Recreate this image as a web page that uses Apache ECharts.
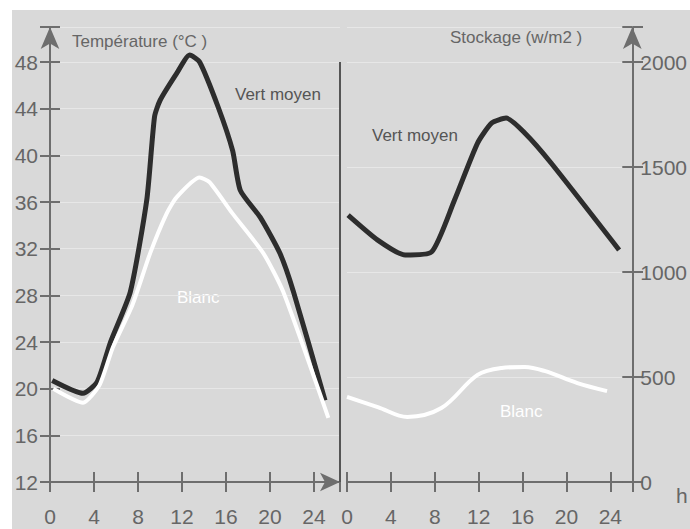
<!DOCTYPE html>
<html><head><meta charset="utf-8">
<script src="https://cdn.jsdelivr.net/npm/echarts@6/dist/echarts.min.js"></script>
<style>html,body{margin:0;padding:0;background:#fff}#c{width:690px;height:529px}</style>
</head><body><div id="c"></div>
<script>
// Left panel: température (°C) vs heure (h)
const hoursVertTemp = [0.2, 3, 4.3, 5.5, 7.3, 8.8, 9.5, 10, 11.5, 12.7, 13.6, 15.3, 16.6, 17.3, 19.1, 20.9, 22.1, 25];
const tempVert      = [20.7, 19.6, 20.6, 24, 28.3, 36.2, 43.3, 44.7, 47, 48.6, 48, 44.1, 40.4, 37, 34.7, 31.6, 28.4, 19];
const hoursBlancTemp = [0.3, 3, 4.5, 5.7, 7.5, 9.1, 10.6, 11.5, 13.6, 14.5, 16.6, 19.4, 21.2, 25.3];
const tempBlanc      = [20, 18.8, 20.3, 23.5, 27.2, 31.6, 35, 36.4, 38.1, 37.7, 35, 31.6, 28.3, 17.5];
// Right panel: stockage (w/m2) vs heure (h)
const hoursVertStock = [0.1, 2.8, 5.3, 7.7, 9.8, 11.9, 13.2, 14.5, 16.2, 18.6, 24.8];
const stockVert      = [1271, 1152, 1081, 1095, 1343, 1614, 1710, 1733, 1662, 1519, 1105];
const hoursBlancStock = [0, 2.8, 5.5, 8.6, 11.9, 14.1, 16.2, 18, 21, 23.7];
const stockBlanc      = [405, 357, 310, 352, 510, 543, 548, 529, 471, 433];
// Tick labels
const hourTicks = [0, 4, 8, 12, 16, 20, 24];
const tempTicks = [12, 16, 20, 24, 28, 32, 36, 40, 44, 48];
const stockTicks = [0, 500, 1000, 1500, 2000];

const FONT = 'Liberation Sans';
const AX = '#6e6e6e';
const TXT = '#666666';
const pairs = (xs, ys) => xs.map((x, i) => [x, ys[i]]);
const only = list => v => list.indexOf(Math.round(v * 1000) / 1000) >= 0 ? String(Math.round(v)) : '';
const tickStyle = {color: AX, width: 2};

const chart = echarts.init(document.getElementById('c'), null, {renderer: 'svg'});

const grid = (l, w) => ({left: l, top: 27, width: w, height: 455});

function xAx(g, max, main, arrow) {
  return {
    type: 'value', gridIndex: g, min: 0, max: max, interval: 4, position: 'bottom',
    axisLine: {show: main, onZero: false, lineStyle: {color: AX, width: 2}, symbol: arrow ? ['none', 'arrow'] : ['none', 'none'], symbolSize: [14, 20]},
    axisTick: {show: true, inside: main, length: 10, lineStyle: tickStyle},
    axisLabel: main ? {color: TXT, fontSize: 21, fontFamily: FONT, margin: 24, formatter: only(hourTicks)} : {show: false},
    splitLine: {show: false}
  };
}
function yAx(g, min, max, interval, pos, main, ticks, margin) {
  return {
    type: 'value', gridIndex: g, min: min, max: max, interval: interval, position: pos,
    axisLine: {show: main, onZero: false, lineStyle: {color: AX, width: 2}, symbol: ['none', 'arrow'], symbolSize: [14, 22]},
    axisTick: {show: true, inside: main, length: 10, lineStyle: tickStyle},
    axisLabel: main ? {color: TXT, fontSize: 21, fontFamily: FONT, margin: margin, padding: [0, 0, 10, 0], formatter: only(ticks)} : {show: false},
    splitLine: main ? {show: true, lineStyle: {color: '#e7e7e7', width: 1}} : {show: false}
  };
}

const option = {
  backgroundColor: '#ffffff',
  animation: false,
  grid: [grid(50, 290), grid(347, 286), grid(50, 290), grid(347, 286)],
  xAxis: [
    xAx(0, 26.36, true, true),
    xAx(1, 26, true, false),
    xAx(2, 26.36, false, false),
    xAx(3, 26, false, false)
  ],
  yAxis: [
    yAx(0, 12, 51, 4, 'left', true, tempTicks, 12),
    yAx(1, 0, 2166.67, 500, 'right', true, stockTicks, 8),
    yAx(2, 12, 51, 4, 'left', false, tempTicks, 12),
    yAx(3, 0, 2166.67, 500, 'right', false, stockTicks, 8)
  ],
  series: [
    {type: 'line', xAxisIndex: 0, yAxisIndex: 0, data: pairs(hoursVertTemp, tempVert), showSymbol: false, smooth: 0.2,
     lineStyle: {color: '#2d2d2d', width: 5}, z: 3},
    {type: 'line', xAxisIndex: 0, yAxisIndex: 0, data: pairs(hoursBlancTemp, tempBlanc), showSymbol: false, smooth: 0.2,
     lineStyle: {color: '#ffffff', width: 4}, z: 4},
    {type: 'line', xAxisIndex: 1, yAxisIndex: 1, data: pairs(hoursVertStock, stockVert), showSymbol: false, smooth: 0.2,
     lineStyle: {color: '#2d2d2d', width: 5}, z: 3},
    {type: 'line', xAxisIndex: 1, yAxisIndex: 1, data: pairs(hoursBlancStock, stockBlanc), showSymbol: false, smooth: 0.35,
     lineStyle: {color: '#ffffff', width: 4}, z: 4}
  ],
  graphic: [
    {type: 'rect', z: -10, silent: true, shape: {x: 12, y: 10, width: 678, height: 519}, style: {fill: '#d9d9d9'}},
    {type: 'line', z: 5, shape: {x1: 340, y1: 62, x2: 340, y2: 482}, style: {stroke: '#555555', lineWidth: 2}},
    {type: 'text', left: 72, top: 33, style: {text: 'Température (°C )', fontSize: 17, fontFamily: FONT, fill: TXT}},
    {type: 'text', left: 235, top: 86, style: {text: 'Vert moyen', fontSize: 17, fontFamily: FONT, fill: '#555555'}},
    {type: 'text', left: 177, top: 289, style: {text: 'Blanc', fontSize: 17, fontFamily: FONT, fill: '#ffffff'}},
    {type: 'text', left: 450, top: 29, style: {text: 'Stockage (w/m2 )', fontSize: 17, fontFamily: FONT, fill: TXT}},
    {type: 'text', left: 372, top: 127, style: {text: 'Vert moyen', fontSize: 17, fontFamily: FONT, fill: '#555555'}},
    {type: 'text', left: 500, top: 403, style: {text: 'Blanc', fontSize: 17, fontFamily: FONT, fill: '#ffffff'}},
    {type: 'text', left: 676, top: 485, style: {text: 'h', fontSize: 21, fontFamily: FONT, fill: TXT}}
  ]
};
chart.setOption(option);
</script></body></html>
